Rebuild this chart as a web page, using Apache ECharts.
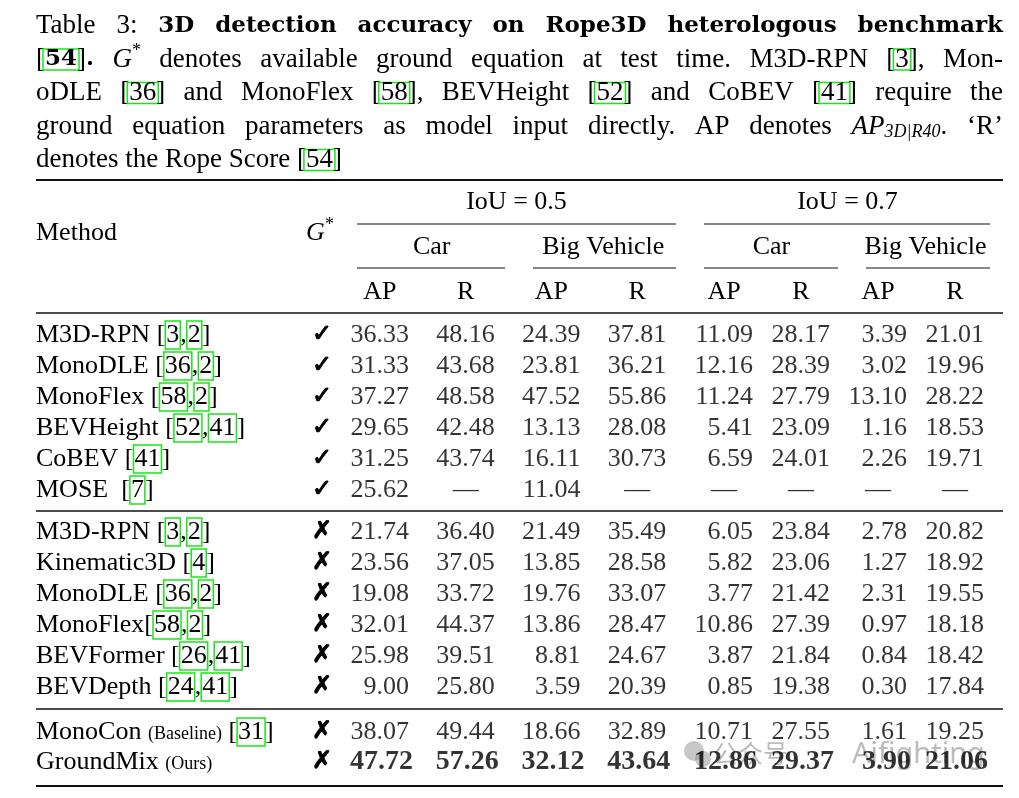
<!DOCTYPE html>
<html>
<head>
<meta charset="utf-8">
<title>Rope3D heterologous benchmark</title>
<script src="https://cdn.jsdelivr.net/npm/echarts@6.0.0/dist/echarts.min.js"></script>
<style>
  html, body { margin: 0; padding: 0; background: #fff; }
  #chart { width: 1019px; height: 798px; }
</style>
</head>
<body>
<div id="chart"></div>
<script>
// row labels, citations in [] get the green hyperref box
const methods = [
  'M3D-RPN [3,2]', 'MonoDLE [36,2]', 'MonoFlex [58,2]', 'BEVHeight [52,41]', 'CoBEV [41]', 'MOSE  [7]',
  'M3D-RPN [3,2]', 'Kinematic3D [4]', 'MonoDLE [36,2]', 'MonoFlex[58,2]', 'BEVFormer [26,41]', 'BEVDepth [24,41]',
  'MonoCon (Baseline) [31]', 'GroundMix (Ours)'
]
const groundEq = [true, true, true, true, true, true, false, false, false, false, false, false, false, false]

// IoU = 0.5
const ap05Car = [36.33, 31.33, 37.27, 29.65, 31.25, 25.62, 21.74, 23.56, 19.08, 32.01, 25.98, 9.00, 38.07, 47.72]
const r05Car = [48.16, 43.68, 48.58, 42.48, 43.74, null, 36.40, 37.05, 33.72, 44.37, 39.51, 25.80, 49.44, 57.26]
const ap05Big = [24.39, 23.81, 47.52, 13.13, 16.11, 11.04, 21.49, 13.85, 19.76, 13.86, 8.81, 3.59, 18.66, 32.12]
const r05Big = [37.81, 36.21, 55.86, 28.08, 30.73, null, 35.49, 28.58, 33.07, 28.47, 24.67, 20.39, 32.89, 43.64]
// IoU = 0.7
const ap07Car = [11.09, 12.16, 11.24, 5.41, 6.59, null, 6.05, 5.82, 3.77, 10.86, 3.87, 0.85, 10.71, 12.86]
const r07Car = [28.17, 28.39, 27.79, 23.09, 24.01, null, 23.84, 23.06, 21.42, 27.39, 21.84, 19.38, 27.55, 29.37]
const ap07Big = [3.39, 3.02, 13.10, 1.16, 2.26, null, 2.78, 1.27, 2.31, 0.97, 0.84, 0.30, 1.61, 3.90]
const r07Big = [21.01, 19.96, 28.22, 18.53, 19.71, null, 20.82, 18.92, 19.55, 18.18, 18.42, 17.84, 19.25, 21.06]

const colHeaders = ['AP', 'R', 'AP', 'R', 'AP', 'R', 'AP', 'R']
const classHeaders = ['Car', 'Big Vehicle']
const iouHeaders = ['IoU = 0.5', 'IoU = 0.7']
const blocks = [[0, 6], [6, 12], [12, 14]]
const boldRows = [13]

const columns = [ap05Car, r05Car, ap05Big, r05Big, ap07Car, r07Car, ap07Big, r07Big]

const FONT = 'Liberation Serif'
const BOLD_FONT = 'DejaVu Serif'
const GREEN = '#17e617'

// ---------- caption (justified like the LaTeX one) ----------
const ctx = document.createElement('canvas').getContext('2d')
const SEG = {
  r: { size: 27 },
  b: { size: 23, weight: 'bold', family: BOLD_FONT },
  i: { size: 27, style: 'italic' },
  c: { size: 27, box: true },
  cb: { size: 23, weight: 'bold', family: BOLD_FONT, box: true },
  sup: { size: 18, dy: -8 },
  subi: { size: 18, style: 'italic', dy: 6 },
}

function w(str, base = 'r') {
  const segs = []
  let last = 0
  str.replace(/\[([\d,]+)\]/g, (m, nums, off) => {
    if (off > last) segs.push([str.slice(last, off), base])
    segs.push(['[', 'r'])
    nums.split(',').forEach((n, k) => {
      if (k) segs.push([',', 'r'])
      segs.push([n, base === 'b' ? 'cb' : 'c'])
    })
    segs.push([']', 'r'])
    last = off + m.length
  })
  if (last < str.length) segs.push([str.slice(last), base])
  return segs
}
const words = (s, base) => s.split(' ').map(t => w(t, base))

const captionLines = [
  { y: 26, justify: true, words: [w('Table'), w('3:'), ...words('3D detection accuracy on Rope3D heterologous benchmark', 'b')] },
  { y: 59.5, justify: true, words: [[['[', 'r'], ['54', 'cb'], [']', 'r'], ['.', 'b']], [['G', 'i'], ['*', 'sup']],
    ...words('denotes available ground equation at test time. M3D-RPN [3], Mon-')] },
  { y: 93, justify: true, words: words('oDLE [36] and MonoFlex [58], BEVHeight [52] and CoBEV [41] require the') },
  { y: 126.5, justify: true, words: [...words('ground equation parameters as model input directly. AP denotes'),
    [['AP', 'i'], ['3D|R40', 'subi'], ['.', 'r']], w('‘R’')] },
  { y: 160, justify: false, words: words('denotes the Rope Score [54]') },
]

function fontStr(st) {
  return `${st.style || 'normal'} ${st.weight || 'normal'} ${st.size}px "${st.family || FONT}"`
}
function segWidth(seg) {
  ctx.font = fontStr(SEG[seg[1]])
  return ctx.measureText(seg[0]).width
}

function captionGraphics() {
  const out = []
  const x0 = 36, x1 = 1003
  captionLines.forEach(line => {
    const widths = line.words.map(wd => wd.reduce((s, seg) => s + segWidth(seg), 0))
    const total = widths.reduce((a, b) => a + b, 0)
    const gap = line.justify ? (x1 - x0 - total) / (line.words.length - 1) : segWidth([' ', 'r'])
    let x = x0
    line.words.forEach((wd, k) => {
      wd.forEach(seg => {
        const st = SEG[seg[1]]
        const el = {
          type: 'text', x: x, y: line.y + (st.dy || 0), silent: true,
          style: {
            text: seg[0], fontSize: st.size, fontFamily: st.family || FONT, fontWeight: st.weight || 'normal',
            fontStyle: st.style || 'normal', fill: '#000', align: 'left', verticalAlign: 'middle'
          }
        }
        if (st.box) {
          el.x = x - 2
          Object.assign(el.style, { borderColor: GREEN, borderWidth: 1.5, padding: [1, 2, 1, 2], lineHeight: 19 })
        }
        out.push(el)
        x += segWidth(seg)
      })
      if (k < line.words.length - 1) x += gap
    })
  })
  return out
}

// ---------- table rules ----------
function rule(x1, x2, y, lw) {
  return { type: 'line', silent: true, shape: { x1, y1: y, x2, y2: y }, style: { stroke: '#111', lineWidth: lw } }
}
const rules = [
  rule(36, 1003, 180, 2),
  rule(357, 676, 224, 1), rule(704, 990, 224, 1),
  rule(357, 505, 268, 1), rule(533, 676, 268, 1), rule(704, 838, 268, 1), rule(866, 990, 268, 1),
  rule(36, 1003, 313, 1.3),
  rule(36, 1003, 511, 1.3),
  rule(36, 1003, 709, 1.3),
  rule(36, 1003, 786, 2),
]

const headerText = [
  { type: 'text', x: 36, y: 233, silent: true, style: { text: 'Method', fontSize: 26, fontFamily: FONT, fill: '#000', align: 'left', verticalAlign: 'middle' } },
  { type: 'text', x: 306, y: 233, silent: true, style: { text: 'G', fontSize: 26, fontFamily: FONT, fontStyle: 'italic', fill: '#000', align: 'left', verticalAlign: 'middle' } },
  { type: 'text', x: 325, y: 225, silent: true, style: { text: '*', fontSize: 18, fontFamily: FONT, fill: '#000', align: 'left', verticalAlign: 'middle' } },
]

const watermark = [
  { type: 'circle', silent: true, shape: { cx: 694, cy: 751, r: 10 }, style: { fill: 'rgba(130,130,130,0.45)' } },
  { type: 'circle', silent: true, shape: { cx: 703, cy: 759, r: 8 }, style: { fill: 'rgba(130,130,130,0.45)' } },
  { type: 'text', x: 713, y: 753, silent: true, style: { text: '公众号', fontSize: 25, fontFamily: 'Noto Sans CJK SC', fill: 'rgba(120,120,120,0.5)', align: 'left', verticalAlign: 'middle' } },
  { type: 'text', x: 852, y: 755, silent: true, style: { text: 'Aifighting', fontSize: 29, fontFamily: 'Noto Sans', fill: 'rgba(120,120,120,0.5)', align: 'left', verticalAlign: 'middle' } },
]

// ---------- the table body: one grid per row block and IoU group ----------
const groupLeft = [337, 685.5]
const groupWidth = [343, 308]
const blockTop = [319.5, 516.5, 717]
const blockHeight = [186, 186, 60]

const noLine = { axisLine: { show: false }, axisTick: { show: false }, splitLine: { show: false } }
const cellFont = { fontFamily: FONT, fontSize: 26, color: '#000' }

function methodLabel(s) {
  return s
    .replace(/\(([^)]+)\)/, '{s|($1)}')
    .replace(/\[([\d,]+)\]/, (m, nums) => '[' + nums.split(',').map(n => `{c|${n}}`).join(',') + ']')
}

const grid = [], xAxis = [], yAxis = [], series = []
blocks.forEach(([r0, r1], b) => {
  ;[0, 1].forEach(g => {
    const gi = grid.length
    grid.push({ left: groupLeft[g], top: blockTop[b], width: groupWidth[g], height: blockHeight[b] })

    const xi = xAxis.length
    xAxis.push({
      type: 'category', gridIndex: gi, position: 'top', show: b === 0,
      data: colHeaders.slice(g * 4, g * 4 + 4), ...noLine,
      axisLabel: { ...cellFont, margin: 14, interval: 0 }
    })
    if (b === 0) {
      xAxis.push({
        type: 'category', gridIndex: gi, position: 'top', offset: 45,
        data: classHeaders, ...noLine,
        axisLabel: { margin: 14, interval: 0, formatter: v => `{h|${v}}`, rich: { h: { ...cellFont, padding: [0, 0, 0, 18] } } }
      })
      xAxis.push({
        type: 'category', gridIndex: gi, position: 'top', offset: 90,
        data: [iouHeaders[g]], ...noLine,
        axisLabel: { margin: 14, interval: 0, formatter: v => `{h|${v}}`, rich: { h: { ...cellFont, padding: [0, 0, 0, 16] } } }
      })
    }

    const yi = yAxis.length
    if (g === 0) {
      yAxis.push({
        type: 'category', gridIndex: gi, position: 'left', inverse: true,
        data: methods.slice(r0, r1), ...noLine,
        axisLabel: {
          ...cellFont, align: 'left', margin: 301, interval: 0,
          formatter: methodLabel,
          rich: {
            c: { ...cellFont, borderColor: GREEN, borderWidth: 1.5, padding: [1, 1, 1, 1], lineHeight: 19 },
            s: { fontFamily: FONT, fontSize: 18, color: '#000', padding: [5, 0, 0, 0] }
          }
        }
      })
      yAxis.push({
        type: 'category', gridIndex: gi, position: 'left', inverse: true,
        data: groundEq.slice(r0, r1).map(v => (v ? '✓' : '✗')), ...noLine,
        axisLabel: {
          fontFamily: 'DejaVu Sans', fontSize: 24, color: '#000', margin: 5, interval: 0,
          textBorderColor: '#000', textBorderWidth: 1
        }
      })
    } else {
      yAxis.push({
        type: 'category', gridIndex: gi, inverse: true, show: false,
        data: methods.slice(r0, r1).map((_, k) => k)
      })
    }

    const data = []
    for (let c = 0; c < 4; c++) {
      const col = columns[g * 4 + c]
      for (let r = r0; r < r1; r++) {
        const v = col[r]
        const item = { value: [c, r - r0], text: v == null ? '—' : v.toFixed(2) }
        if (v == null) item.label = { align: 'center', offset: [0, 0] }
        else if (boldRows.includes(r)) item.label = { fontWeight: 'bold', fontSize: 28, offset: [33, 0] }
        data.push(item)
      }
    }
    series.push({
      type: 'scatter', xAxisIndex: xi, yAxisIndex: yi, silent: true,
      symbolSize: 1, itemStyle: { color: 'rgba(0,0,0,0)' },
      label: {
        show: true, position: 'inside', align: 'right', offset: [29, 0], ...cellFont,
        formatter: p => p.data.text
      },
      data
    })
  })
})

const chart = echarts.init(document.getElementById('chart'))
chart.setOption({
  animation: false,
  backgroundColor: '#fff',
  textStyle: { fontFamily: FONT },
  grid, xAxis, yAxis, series,
  graphic: [...captionGraphics(), ...rules, ...headerText, ...watermark]
})
window.addEventListener('resize', () => chart.resize())
</script>
</body>
</html>
